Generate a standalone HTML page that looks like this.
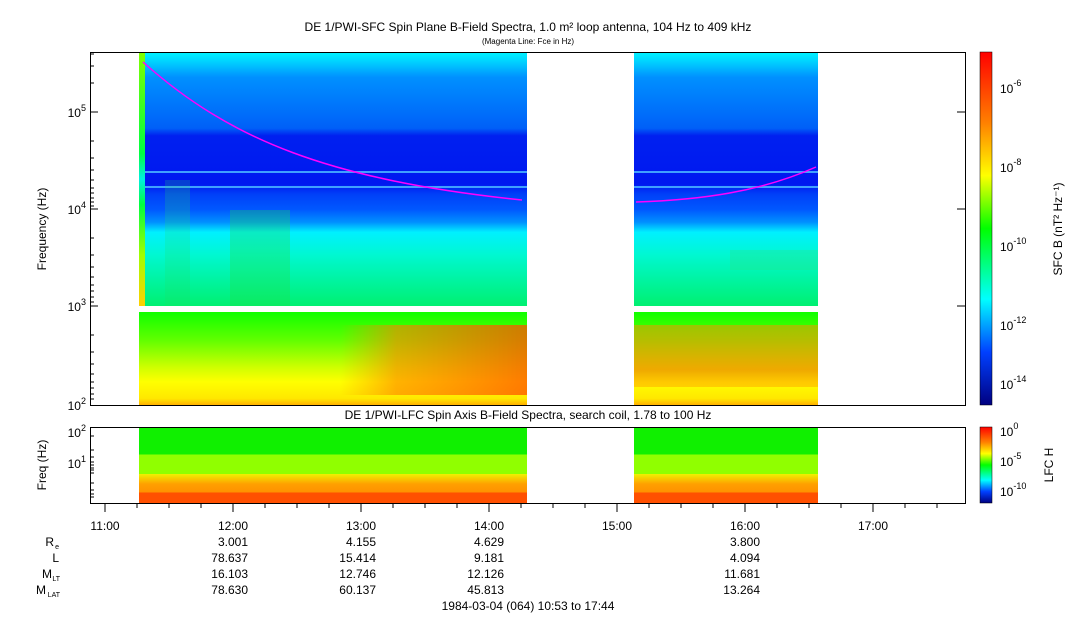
<!DOCTYPE html>
<html><head><style>
body{margin:0;background:#fff;}
svg{display:block;font-family:"Liberation Sans",sans-serif;}
</style></head><body>
<svg width="1083" height="620" viewBox="0 0 1083 620" xmlns="http://www.w3.org/2000/svg">
<defs>
<linearGradient id="top" x1="0" y1="52" x2="0" y2="306" gradientUnits="userSpaceOnUse">
<stop offset="0" stop-color="#00f4ff"/>
<stop offset="0.04" stop-color="#00d0ff"/>
<stop offset="0.1" stop-color="#0090ff"/>
<stop offset="0.3" stop-color="#0060f8"/>
<stop offset="0.33" stop-color="#0020f0"/>
<stop offset="0.52" stop-color="#0018f0"/>
<stop offset="0.56" stop-color="#0040f8"/>
<stop offset="0.62" stop-color="#0058ff"/>
<stop offset="0.67" stop-color="#0090ff"/>
<stop offset="0.71" stop-color="#00f0ff"/>
<stop offset="0.8" stop-color="#00f8d0"/>
<stop offset="1" stop-color="#00f070"/>
</linearGradient>
<linearGradient id="low" x1="0" y1="312" x2="0" y2="405" gradientUnits="userSpaceOnUse">
<stop offset="0" stop-color="#10ff00"/>
<stop offset="0.3" stop-color="#60ff00"/>
<stop offset="0.6" stop-color="#d0ff00"/>
<stop offset="0.75" stop-color="#ffff00"/>
<stop offset="0.93" stop-color="#ffe800"/>
<stop offset="1" stop-color="#ffb000"/>
</linearGradient>
<linearGradient id="orng" x1="340" y1="0" x2="527" y2="0" gradientUnits="userSpaceOnUse">
<stop offset="0" stop-color="#ff9000" stop-opacity="0"/>
<stop offset="0.3" stop-color="#ff8000" stop-opacity="0.6"/>
<stop offset="1" stop-color="#ff5000" stop-opacity="0.75"/>
</linearGradient>
<linearGradient id="ov" x1="0" y1="325" x2="0" y2="400" gradientUnits="userSpaceOnUse">
<stop offset="0" stop-color="#ff9000" stop-opacity="0.5"/>
<stop offset="0.6" stop-color="#ff7000" stop-opacity="0.6"/>
<stop offset="1" stop-color="#ffa000" stop-opacity="0.2"/>
</linearGradient>
<linearGradient id="strip" x1="0" y1="52" x2="0" y2="306" gradientUnits="userSpaceOnUse">
<stop offset="0" stop-color="#80ff00"/>
<stop offset="0.4" stop-color="#00ff40"/>
<stop offset="0.5" stop-color="#00f0e0"/>
<stop offset="0.6" stop-color="#00ff40"/>
<stop offset="0.8" stop-color="#a0ff00"/>
<stop offset="1" stop-color="#ffd000"/>
</linearGradient>
<linearGradient id="lfc" x1="0" y1="427" x2="0" y2="503" gradientUnits="userSpaceOnUse">
<stop offset="0" stop-color="#10f000"/>
<stop offset="0.36" stop-color="#10f000"/>
<stop offset="0.36" stop-color="#90ff00"/>
<stop offset="0.62" stop-color="#90ff00"/>
<stop offset="0.62" stop-color="#f0f000"/>
<stop offset="0.75" stop-color="#ffa000"/>
<stop offset="0.86" stop-color="#ff9000"/>
<stop offset="0.86" stop-color="#ff5000"/>
<stop offset="1" stop-color="#ff5000"/>
</linearGradient>
<linearGradient id="cb" x1="0" y1="52" x2="0" y2="405" gradientUnits="userSpaceOnUse">
<stop offset="0" stop-color="#ff0000"/>
<stop offset="0.2" stop-color="#ff8000"/>
<stop offset="0.35" stop-color="#ffff00"/>
<stop offset="0.5" stop-color="#00ff00"/>
<stop offset="0.7" stop-color="#00ffff"/>
<stop offset="0.85" stop-color="#0040ff"/>
<stop offset="1" stop-color="#000080"/>
</linearGradient>
<linearGradient id="cb2" x1="0" y1="427" x2="0" y2="503" gradientUnits="userSpaceOnUse">
<stop offset="0" stop-color="#ff0000"/>
<stop offset="0.2" stop-color="#ff8000"/>
<stop offset="0.35" stop-color="#ffff00"/>
<stop offset="0.5" stop-color="#00ff00"/>
<stop offset="0.7" stop-color="#00ffff"/>
<stop offset="0.85" stop-color="#0040ff"/>
<stop offset="1" stop-color="#000080"/>
</linearGradient>
</defs>
<text x="528" y="31" font-size="12" text-anchor="middle">DE 1/PWI-SFC  Spin Plane B-Field Spectra, 1.0 m² loop antenna, 104 Hz to 409 kHz</text>
<text x="528" y="44" font-size="8" text-anchor="middle">(Magenta Line: Fce in Hz)</text>
<rect x="139" y="52" width="388" height="254" fill="url(#top)"/>
<rect x="634" y="52" width="184" height="254" fill="url(#top)"/>
<rect x="139" y="52" width="6" height="254" fill="url(#strip)"/>
<rect x="145" y="171" width="382" height="2" fill="#40a0ff"/>
<rect x="634" y="171" width="184" height="2" fill="#40a0ff"/>
<rect x="145" y="186" width="382" height="2" fill="#40a0ff"/>
<rect x="634" y="186" width="184" height="2" fill="#40a0ff"/>
<rect x="230" y="210" width="60" height="96" fill="#20e040" opacity="0.3"/>
<rect x="165" y="180" width="25" height="126" fill="#20e060" opacity="0.2"/>
<rect x="730" y="250" width="88" height="20" fill="#30e080" opacity="0.3"/>
<rect x="139" y="312" width="388" height="93" fill="url(#low)"/>
<rect x="634" y="312" width="184" height="93" fill="url(#low)"/>
<rect x="340" y="325" width="187" height="70" fill="url(#orng)"/>
<rect x="634" y="325" width="184" height="62" fill="url(#ov)"/>
<path d="M143,62 C230,140 330,180 522,200" fill="none" stroke="#ff00ff" stroke-width="1.5"/>
<path d="M636,202 C700,200 760,192 816,167" fill="none" stroke="#ff00ff" stroke-width="1.5"/>
<rect x="90.5" y="52.5" width="875" height="353" fill="none" stroke="#000"/>
<g stroke="#000">
<line x1="90" y1="112" x2="98" y2="112"/><line x1="90" y1="209" x2="98" y2="209"/><line x1="90" y1="306" x2="98" y2="306"/>
<line x1="957" y1="112" x2="965" y2="112"/><line x1="957" y1="209" x2="965" y2="209"/><line x1="957" y1="306" x2="965" y2="306"/>
<path d="M90,83h4M90,66h4M90,54h4M90,141h4M90,180h4M90,158h4M90,170h4M90,188h4M90,193h4M90,198h4M90,202h4M90,206h4M90,238h4M90,255h4M90,267h4M90,277h4M90,285h4M90,291h4M90,297h4M90,302h4M90,335h4M90,352h4M90,364h4M90,374h4M90,382h4M90,388h4M90,394h4M90,399h4"/>
<path d="M90,436h4M90,450h4M90,457h4M90,462h4M90,465h4M90,468h4M90,470h4M90,473h4M90,483h4M90,490h4M90,494h4M90,497h4"/>
<path d="M169,504v4M201,504v4M265,504v4M297,504v4M329,504v4M393,504v4M425,504v4M457,504v4M521,504v4M553,504v4M585,504v4M649,504v4M681,504v4M713,504v4M777,504v4M809,504v4M841,504v4M905,504v4M937,504v4M137,504v4"/>
</g>
<g font-size="12" text-anchor="end">
<text x="86" y="117">10<tspan font-size="9" dy="-6">5</tspan></text>
<text x="86" y="214">10<tspan font-size="9" dy="-6">4</tspan></text>
<text x="86" y="311">10<tspan font-size="9" dy="-6">3</tspan></text>
<text x="86" y="410">10<tspan font-size="9" dy="-6">2</tspan></text>
</g>
<text transform="translate(46,229) rotate(-90)" font-size="12" text-anchor="middle">Frequency (Hz)</text>
<rect x="980" y="52" width="12" height="353" fill="url(#cb)" stroke="#000" stroke-width="0.5"/>
<g font-size="12">
<text x="1000" y="93">10<tspan font-size="9" dy="-7">-6</tspan></text>
<text x="1000" y="172">10<tspan font-size="9" dy="-7">-8</tspan></text>
<text x="1000" y="251">10<tspan font-size="9" dy="-7">-10</tspan></text>
<text x="1000" y="330">10<tspan font-size="9" dy="-7">-12</tspan></text>
<text x="1000" y="389">10<tspan font-size="9" dy="-7">-14</tspan></text>
</g>
<text transform="translate(1062,229) rotate(-90)" font-size="12" text-anchor="middle">SFC B (nT² Hz⁻¹)</text>
<text x="528" y="419" font-size="12" text-anchor="middle">DE 1/PWI-LFC  Spin Axis B-Field Spectra, search coil, 1.78 to 100 Hz</text>
<rect x="139" y="427" width="388" height="76" fill="url(#lfc)"/>
<rect x="634" y="427" width="184" height="76" fill="url(#lfc)"/>
<rect x="90.5" y="427.5" width="875" height="76" fill="none" stroke="#000"/>
<g font-size="12" text-anchor="end">
<text x="86" y="437">10<tspan font-size="9" dy="-6">2</tspan></text>
<text x="86" y="468">10<tspan font-size="9" dy="-6">1</tspan></text>
</g>
<text transform="translate(46,465) rotate(-90)" font-size="12" text-anchor="middle">Freq (Hz)</text>
<rect x="980" y="427" width="12" height="76" fill="url(#cb2)" stroke="#000" stroke-width="0.5"/>
<g font-size="12">
<text x="1000" y="436">10<tspan font-size="9" dy="-7">0</tspan></text>
<text x="1000" y="466">10<tspan font-size="9" dy="-7">-5</tspan></text>
<text x="1000" y="496">10<tspan font-size="9" dy="-7">-10</tspan></text>
</g>
<text transform="translate(1053,465) rotate(-90)" font-size="12" text-anchor="middle">LFC H</text>
<g stroke="#000">
<line x1="105" y1="504" x2="105" y2="512"/><line x1="233" y1="504" x2="233" y2="512"/><line x1="361" y1="504" x2="361" y2="512"/><line x1="489" y1="504" x2="489" y2="512"/><line x1="617" y1="504" x2="617" y2="512"/><line x1="745" y1="504" x2="745" y2="512"/><line x1="873" y1="504" x2="873" y2="512"/>
</g>
<g font-size="12" text-anchor="middle">
<text x="105" y="530">11:00</text><text x="233" y="530">12:00</text><text x="361" y="530">13:00</text><text x="489" y="530">14:00</text><text x="617" y="530">15:00</text><text x="745" y="530">16:00</text><text x="873" y="530">17:00</text>
</g>
<g font-size="12" text-anchor="end">
<text x="248" y="546">3.001</text><text x="376" y="546">4.155</text><text x="504" y="546">4.629</text><text x="760" y="546">3.800</text>
<text x="248" y="562">78.637</text><text x="376" y="562">15.414</text><text x="504" y="562">9.181</text><text x="760" y="562">4.094</text>
<text x="248" y="578">16.103</text><text x="376" y="578">12.746</text><text x="504" y="578">12.126</text><text x="760" y="578">11.681</text>
<text x="248" y="594">78.630</text><text x="376" y="594">60.137</text><text x="504" y="594">45.813</text><text x="760" y="594">13.264</text>
<text x="54" y="546">R</text><text x="59" y="549" font-size="7">e</text>
<text x="59" y="562">L</text>
<text x="52" y="578">M</text><text x="60" y="581" font-size="7">LT</text>
<text x="46" y="594">M</text><text x="60" y="597" font-size="7">LAT</text>
</g>
<text x="528" y="610" font-size="12" text-anchor="middle">1984-03-04 (064) 10:53 to 17:44</text>
</svg>
</body></html>
